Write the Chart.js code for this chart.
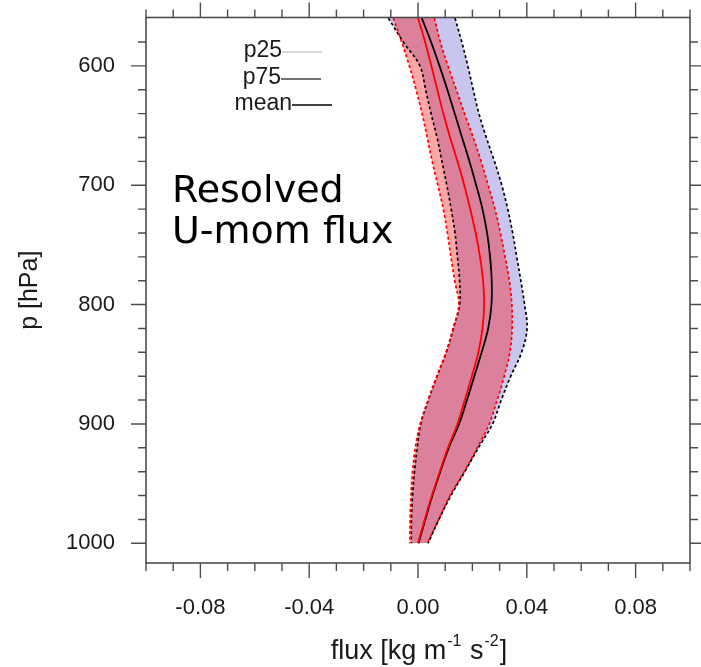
<!DOCTYPE html>
<html>
<head>
<meta charset="utf-8">
<script src="https://cdn.jsdelivr.net/npm/chart.js@4.4.1/dist/chart.umd.min.js"></script>
<style>
  html, body { margin: 0; padding: 0; background: #fff; }
  #wrap { width: 701px; height: 667px; }
</style>
</head>
<body>
<div id="wrap"><canvas id="fluxChart" width="701" height="667"></canvas></div>
<script>
// pressure levels (hPa)
var pres = [560, 580, 600, 620, 640, 660, 680, 700, 720, 740, 760, 780, 800,
            820, 840, 860, 880, 900, 920, 940, 960, 980, 1000];

// blue run: 25th percentile, mean, 75th percentile
var blueP25  = [-0.0109, -0.0054, 0.0007, 0.0028, 0.0048, 0.0070, 0.0088, 0.0106, 0.0122, 0.0136, 0.0145, 0.0153,
                0.0153, 0.0130, 0.0104, 0.0070, 0.0038, 0.0010, -0.0003, -0.0013, -0.0020, -0.0024, -0.0024];
var blueMean = [0.0014, 0.0048, 0.0079, 0.0108, 0.0135, 0.0162, 0.0189, 0.0214, 0.0237, 0.0254, 0.0265, 0.0271,
                0.0270, 0.0258, 0.0234, 0.0207, 0.0180, 0.0151, 0.0113, 0.0082, 0.0053, 0.0027, 0.0002];
var blueP75  = [0.0136, 0.0161, 0.0183, 0.0203, 0.0224, 0.0251, 0.0281, 0.0308, 0.0330, 0.0348, 0.0363, 0.0378,
                0.0392, 0.0401, 0.0381, 0.0341, 0.0306, 0.0274, 0.0222, 0.0172, 0.0121, 0.0077, 0.0037];

// red run: 25th percentile, mean, 75th percentile
var redP25  = [-0.0091, -0.0060, -0.0032, -0.0007, 0.0015, 0.0034, 0.0052, 0.0073, 0.0093, 0.0108, 0.0121, 0.0135,
               0.0150, 0.0129, 0.0103, 0.0069, 0.0037, 0.0008, -0.0010, -0.0020, -0.0026, -0.0029, -0.0030];
var redMean = [0.0000, 0.0026, 0.0049, 0.0071, 0.0093, 0.0118, 0.0145, 0.0170, 0.0192, 0.0212, 0.0228, 0.0239,
               0.0243, 0.0237, 0.0222, 0.0198, 0.0172, 0.0145, 0.0110, 0.0080, 0.0051, 0.0025, 0.0000];
var redP75  = [0.0060, 0.0082, 0.0110, 0.0141, 0.0171, 0.0203, 0.0232, 0.0258, 0.0283, 0.0303, 0.0320, 0.0336,
               0.0345, 0.0346, 0.0338, 0.0317, 0.0291, 0.0262, 0.0218, 0.0170, 0.0118, 0.0076, 0.0034];

var xTicks = [-0.08, -0.04, 0, 0.04, 0.08];
var yTicks = [600, 700, 800, 900, 1000];

var legendItems = ['p25', 'p75', 'mean'];
var legendColors = ['#cccccc', '#444444', '#000000'];
var noteLines = ['Resolved', 'U-mom flux'];

var axisColor = '#4d4d4d';
var textColor = '#1a1a1a';
var labelFont = { family: 'Liberation Sans', size: 22 };

function profile(xs) {
    return xs.map(function (v, i) { return { x: v, y: pres[i] }; });
}

function serie(xs, color, dashed, fillTo, fillColor) {
    return {
        data: profile(xs),
        borderColor: color,
        borderWidth: dashed ? 1.7 : 1.8,
        borderDash: dashed ? [3, 2.5] : [],
        backgroundColor: fillColor || 'transparent',
        fill: fillTo === undefined ? false : fillTo,
        pointRadius: 0,
        tension: 0.35
    };
}

// x axis title with raised exponents
function drawXTitle(ctx, cx, cy) {
    var parts = [['flux [kg m', false], ['-1', true], [' s', false], ['-2', true], [']', false]];
    var big = '27px "Liberation Sans"', small = '16px "Liberation Sans"';
    var total = 0;
    parts.forEach(function (p) {
        ctx.font = p[1] ? small : big;
        total += ctx.measureText(p[0]).width + (p[1] ? 2 : 0);
    });
    var x = cx - total / 2;
    ctx.textAlign = 'left';
    ctx.textBaseline = 'alphabetic';
    ctx.fillStyle = textColor;
    parts.forEach(function (p) {
        ctx.font = p[1] ? small : big;
        if (p[1]) x += 1;
        ctx.fillText(p[0], x, p[1] ? cy - 13 : cy);
        x += ctx.measureText(p[0]).width + (p[1] ? 1 : 0);
    });
}

// frame, outward tick marks, legend, note and x title
var decor = {
    id: 'decor',
    afterDraw: function (chart) {
        var ctx = chart.ctx, a = chart.chartArea;
        var sx = chart.scales.x, sy = chart.scales.y;
        ctx.save();
        ctx.strokeStyle = axisColor;
        ctx.lineWidth = 1.6;
        ctx.strokeRect(a.left, a.top, a.right - a.left, a.bottom - a.top);

        ctx.lineWidth = 1.4;
        ctx.beginPath();
        for (var i = -10; i <= 10; i++) {
            var px = sx.getPixelForValue(i / 100);
            var len = i % 4 === 0 ? 15 : 8;
            ctx.moveTo(px, a.bottom); ctx.lineTo(px, a.bottom + len);
            ctx.moveTo(px, a.top); ctx.lineTo(px, a.top - len);
        }
        for (var p = 580; p <= 1000; p += 20) {
            var py = sy.getPixelForValue(p);
            var l2 = p % 100 === 0 ? 15 : 8;
            ctx.moveTo(a.left, py); ctx.lineTo(a.left - l2, py);
            ctx.moveTo(a.right, py); ctx.lineTo(a.right + l2, py);
        }
        ctx.stroke();

        // legend
        ctx.font = '23px "Liberation Sans"';
        ctx.textAlign = 'right';
        ctx.textBaseline = 'middle';
        var rows = [[282, 51], [281, 78], [292, 104]];
        legendItems.forEach(function (t, k) {
            var r = rows[k];
            ctx.fillStyle = textColor;
            ctx.fillText(t, r[0], r[1]);
            ctx.strokeStyle = legendColors[k];
            ctx.lineWidth = 1.3;
            ctx.beginPath();
            ctx.moveTo(r[0], r[1] + 1);
            ctx.lineTo(r[0] + 40, r[1] + 1);
            ctx.stroke();
        });

        // note
        ctx.font = '38px "DejaVu Sans"';
        ctx.textAlign = 'left';
        ctx.textBaseline = 'alphabetic';
        ctx.fillStyle = '#000';
        ctx.fillText(noteLines[0], 172, 202);
        ctx.fillText(noteLines[1], 172, 243);

        drawXTitle(ctx, 419, 659);
        ctx.restore();
    }
};

new Chart(document.getElementById('fluxChart'), {
    type: 'line',
    data: {
        datasets: [
            serie(redP25, '#ff0000', true, 2, 'rgba(255, 8, 8, 0.36)'),
            serie(redMean, '#ff0000', false),
            serie(redP75, '#ff0000', true),
            serie(blueP25, '#000000', true, 5, 'rgb(200, 198, 238)'),
            serie(blueMean, '#000000', false),
            serie(blueP75, '#000000', true)
        ]
    },
    options: {
        responsive: false,
        animation: false,
        indexAxis: 'y',
        layout: { padding: { top: 17.5, right: 11, left: 0, bottom: 0 } },
        plugins: {
            legend: { display: false },
            tooltip: { enabled: false },
            filler: { drawTime: 'beforeDatasetsDraw' }
        },
        scales: {
            x: {
                type: 'linear',
                axis: 'x',
                position: 'bottom',
                min: -0.1,
                max: 0.1,
                grid: { display: false, drawTicks: false },
                border: { display: false },
                afterBuildTicks: function (s) {
                    s.ticks = xTicks.map(function (v) { return { value: v }; });
                },
                afterFit: function (s) {
                    s.height = 104;
                    s.paddingLeft = 0;
                    s.paddingRight = 0;
                },
                ticks: {
                    color: textColor,
                    font: labelFont,
                    padding: 32,
                    maxRotation: 0,
                    callback: function (v) { return Math.abs(v) < 1e-9 ? '0.00' : v.toFixed(2); }
                }
            },
            y: {
                type: 'linear',
                axis: 'y',
                position: 'left',
                reverse: true,
                min: 559.5,
                max: 1016.5,
                grid: { display: false, drawTicks: false },
                border: { display: false },
                afterBuildTicks: function (s) {
                    s.ticks = yTicks.map(function (v) { return { value: v }; });
                },
                afterFit: function (s) {
                    s.width = 146;
                    s.paddingTop = 0;
                    s.paddingBottom = 0;
                },
                ticks: {
                    color: textColor,
                    font: labelFont,
                    padding: 31,
                    callback: function (v) { return String(v); }
                },
                title: {
                    display: true,
                    text: 'p [hPa]',
                    color: textColor,
                    font: { family: 'Liberation Sans', size: 25 },
                    padding: { top: 15, bottom: 0 }
                }
            }
        }
    },
    plugins: [decor]
});
</script>
</body>
</html>
